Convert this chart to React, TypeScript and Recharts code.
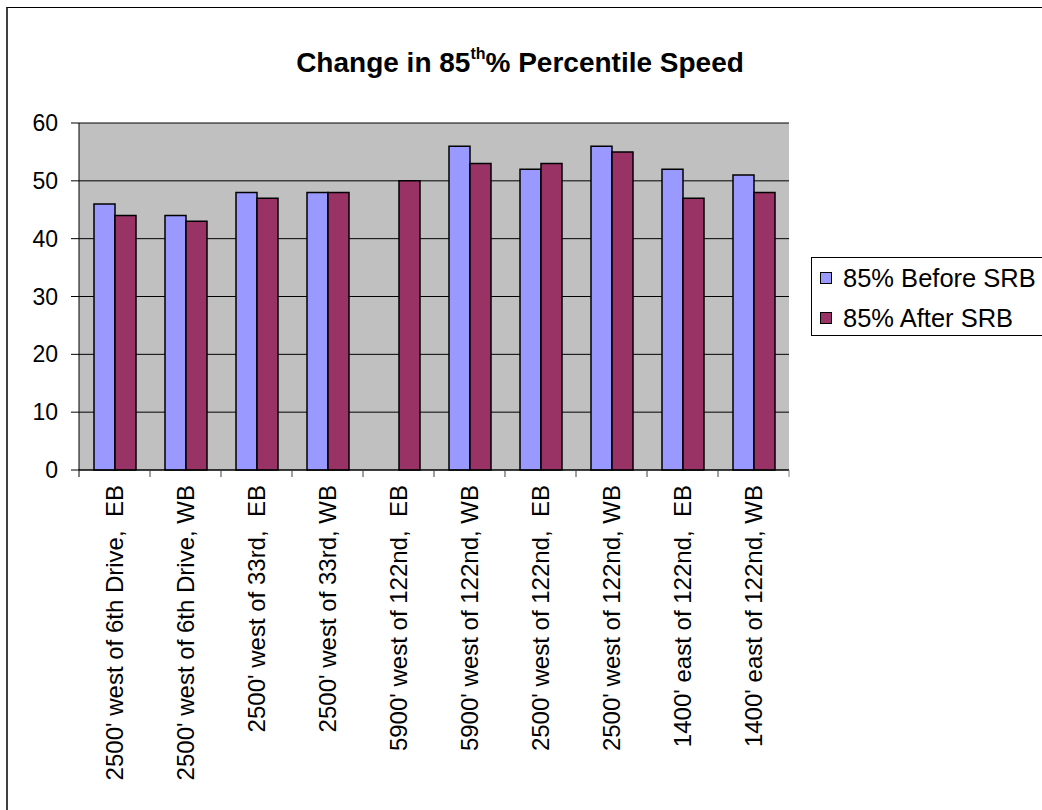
import React from 'react';
import { BarChart, Bar, XAxis, YAxis, CartesianGrid } from 'recharts';

// locations along the corridor
const locations = [
  "2500' west of 6th Drive,  EB",
  "2500' west of 6th Drive, WB",
  "2500' west of 33rd,  EB",
  "2500' west of 33rd, WB",
  "5900' west of 122nd,  EB",
  "5900' west of 122nd, WB",
  "2500' west of 122nd,  EB",
  "2500' west of 122nd, WB",
  "1400' east of 122nd,  EB",
  "1400' east of 122nd, WB",
];

const beforeSRB = [46, 44, 48, 48, null, 56, 52, 56, 52, 51];
const afterSRB = [44, 43, 47, 48, 50, 53, 53, 55, 47, 48];

const yTicks = [0, 10, 20, 30, 40, 50, 60];

const seriesNames = ['85% Before SRB', '85% After SRB'];
const seriesColors = ['#9999FF', '#993366'];

const FONT = "'Liberation Sans', Arial, sans-serif";

const data = locations.map((name, i) => ({
  name,
  before: beforeSRB[i],
  after: afterSRB[i],
}));

// tick label rotated + tick marks on category boundaries
const LocationTick = (props: any) => {
  const { x, y, payload, index } = props;
  const half = payload && payload.offset ? payload.offset : 0;
  const last = index === locations.length - 1;
  const ty = y + 15;
  return (
    <g>
      <line x1={x - half} y1={y} x2={x - half} y2={y + 7} stroke={index === 0 ? '#000' : '#404040'} />
      {last && <line x1={x + half} y1={y} x2={x + half} y2={y + 7} stroke="#808080" />}
      <text
        x={x}
        y={ty}
        transform={`rotate(-90, ${x}, ${ty})`}
        textAnchor="end"
        dy="0.36em"
        fill="#000"
        fontSize={24}
        fontFamily={FONT}
        style={{ whiteSpace: 'pre' }}
      >
        {payload.value}
      </text>
    </g>
  );
};

export default function App() {
  return (
    <div
      style={{
        position: 'absolute',
        left: 0,
        top: 0,
        width: 1042,
        height: 810,
        overflow: 'hidden',
        background: '#fff',
        fontFamily: FONT,
      }}
    >
      {/* outer chart border (right/bottom fall outside the picture) */}
      <div
        style={{
          position: 'absolute',
          left: 6,
          top: 7,
          width: 1100,
          height: 900,
          borderLeft: '2px solid #404040',
          borderTop: '1px solid #000',
        }}
      />
      <div
        style={{
          position: 'absolute',
          left: 0,
          top: 49,
          width: 1040,
          textAlign: 'center',
          fontSize: 28,
          lineHeight: '28px',
          fontWeight: 'bold',
          color: '#000',
          whiteSpace: 'nowrap',
        }}
      >
        Change in 85
        <span style={{ fontSize: 16, position: 'relative', top: -13 }}>th</span>% Percentile Speed
      </div>

      <div style={{ position: 'absolute', left: 0, top: 0 }}>
        <BarChart
          width={1042}
          height={810}
          data={data}
          margin={{ top: 123, right: 253, bottom: 10, left: 39 }}
          barGap={0}
        >
          <CartesianGrid vertical={false} stroke="#000" fill="#C0C0C0" fillOpacity={1} />
          <XAxis
            dataKey="name"
            height={330}
            interval={0}
            tickSize={0}
            tickMargin={0}
            tickLine={false}
            axisLine={{ stroke: '#000' }}
            tick={<LocationTick />}
          />
          <XAxis
            xAxisId="top"
            orientation="top"
            dataKey="name"
            height={0}
            tick={false}
            tickLine={false}
            axisLine={{ stroke: '#808080' }}
          />
          <YAxis
            domain={[0, 60]}
            ticks={yTicks}
            width={40}
            tickSize={8}
            tickMargin={13}
            axisLine={{ stroke: '#000' }}
            tickLine={{ stroke: '#000' }}
            tick={{ fill: '#000', fontSize: 23, fontFamily: FONT }}
          />
          <YAxis
            yAxisId="right"
            orientation="right"
            domain={[0, 60]}
            width={0}
            tick={false}
            tickLine={false}
            axisLine={{ stroke: '#808080' }}
          />
          <Bar dataKey="before" name={seriesNames[0]} fill={seriesColors[0]} stroke="#000" strokeWidth={1.5} barSize={21} isAnimationActive={false} />
          <Bar dataKey="after" name={seriesNames[1]} fill={seriesColors[1]} stroke="#000" strokeWidth={1.5} barSize={21} isAnimationActive={false} />
        </BarChart>
      </div>

      {/* legend */}
      <div
        style={{
          position: 'absolute',
          left: 811,
          top: 257,
          width: 260,
          height: 79,
          border: '1px solid #000',
          background: '#fff',
          boxSizing: 'border-box',
        }}
      >
        {seriesNames.map((n, i) => (
          <div
            key={n}
            style={{
              position: 'absolute',
              left: 8,
              top: 6 + i * 40,
              height: 28,
              display: 'flex',
              alignItems: 'center',
              fontSize: 25.5,
              whiteSpace: 'nowrap',
              color: '#000',
            }}
          >
            <span
              style={{
                display: 'inline-block',
                width: 10,
                height: 10,
                background: seriesColors[i],
                border: '1.5px solid #000',
                marginRight: 11,
              }}
            />
            {n}
          </div>
        ))}
      </div>
    </div>
  );
}
